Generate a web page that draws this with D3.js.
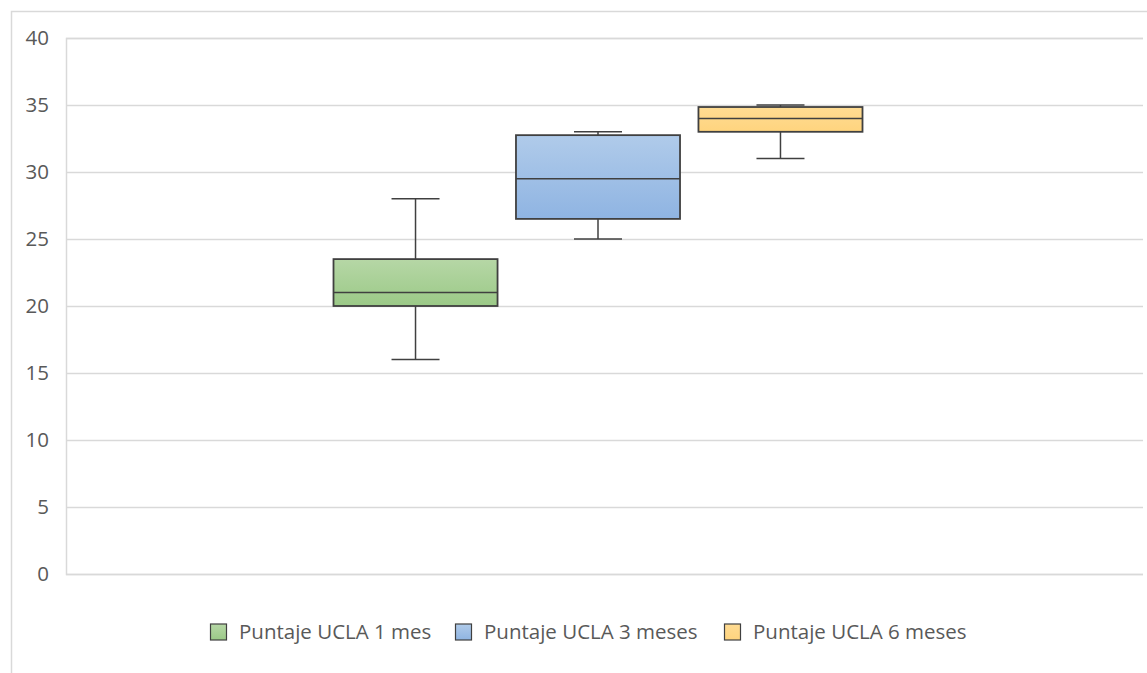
<!DOCTYPE html>
<html>
<head>
<meta charset="utf-8">
<script src="https://cdn.jsdelivr.net/npm/d3@7"></script>
<style>
  html, body { margin: 0; padding: 0; background: #ffffff; }
  svg { display: block; font-family: "Open Sans", "Noto Sans", sans-serif; }
</style>
</head>
<body>
<svg id="chart" width="1147" height="673"></svg>
<script>
// Five-number summaries per series
const seriesNames = ["Puntaje UCLA 1 mes", "Puntaje UCLA 3 meses", "Puntaje UCLA 6 meses"];
const minValues    = [16, 25, 31];
const q1Values     = [20, 26.5, 33];
const medianValues = [21, 29.5, 34];
const q3Values     = [23.5, 32.75, 34.85];
const maxValues    = [28, 33, 35];
const yTicks = [0, 5, 10, 15, 20, 25, 30, 35, 40];

const fillTop    = ["#b6d7a6", "#b0cbea", "#ffdc93"];
const fillBottom = ["#9bc987", "#8fb4e2", "#ffd47e"];

const svg = d3.select("#chart");
const W = 1147, H = 673;
const plot = { left: 66, right: 1143, top: 38, bottom: 574 };

// chart-area frame
svg.append("rect")
  .attr("x", 11.5).attr("y", 11.5)
  .attr("width", W + 20).attr("height", H + 20)
  .attr("fill", "#fff").attr("stroke", "#d9d9d9").attr("stroke-width", 1.5);

const y = d3.scaleLinear().domain([0, 40]).range([plot.bottom, plot.top]);
const x = d3.scaleBand().domain(seriesNames).range([333.5, 862.5]).paddingInner(0.101).paddingOuter(0);

// gradients
const defs = svg.append("defs");
seriesNames.forEach((s, i) => {
  const g = defs.append("linearGradient").attr("id", "grad" + i)
    .attr("x1", 0).attr("y1", 0).attr("x2", 0).attr("y2", 1);
  g.append("stop").attr("offset", "0%").attr("stop-color", fillTop[i]);
  g.append("stop").attr("offset", "100%").attr("stop-color", fillBottom[i]);
});

// gridlines and tick labels
const yAxis = d3.axisLeft(y).tickValues(yTicks).tickSize(-(plot.right - plot.left)).tickPadding(18);
const gy = svg.append("g").attr("transform", `translate(${plot.left},0)`).call(yAxis);
gy.select(".domain").attr("stroke", "#d9d9d9").attr("stroke-width", 1.5);
gy.selectAll(".tick line").attr("stroke", "#d9d9d9").attr("stroke-width", 1.5);
gy.selectAll(".tick text")
  .attr("fill", "#595959").attr("font-size", 20.5).attr("x", -17)
  .style("font-family", "'Open Sans', sans-serif");

// boxes
const data = seriesNames.map((s, i) => ({
  name: s, i, min: minValues[i], q1: q1Values[i], med: medianValues[i], q3: q3Values[i], max: maxValues[i]
}));

const stroke = "#404040";
const boxes = svg.append("g").selectAll("g").data(data).join("g");

boxes.each(function(d) {
  const g = d3.select(this);
  const x0 = x(d.name), bw = x.bandwidth(), cx = x0 + bw / 2;
  const capW = 48;
  // whiskers
  g.append("line").attr("x1", cx).attr("x2", cx).attr("y1", y(d.max)).attr("y2", y(d.q3))
    .attr("stroke", stroke).attr("stroke-width", 1.5);
  g.append("line").attr("x1", cx).attr("x2", cx).attr("y1", y(d.q1)).attr("y2", y(d.min))
    .attr("stroke", stroke).attr("stroke-width", 1.5);
  g.append("line").attr("x1", cx - capW / 2).attr("x2", cx + capW / 2).attr("y1", y(d.max)).attr("y2", y(d.max))
    .attr("stroke", stroke).attr("stroke-width", 1.5);
  g.append("line").attr("x1", cx - capW / 2).attr("x2", cx + capW / 2).attr("y1", y(d.min)).attr("y2", y(d.min))
    .attr("stroke", stroke).attr("stroke-width", 1.5);
  // box
  g.append("rect").attr("x", x0).attr("y", y(d.q3))
    .attr("width", bw).attr("height", y(d.q1) - y(d.q3))
    .attr("fill", `url(#grad${d.i})`).attr("stroke", stroke).attr("stroke-width", 1.8);
  // median
  g.append("line").attr("x1", x0).attr("x2", x0 + bw).attr("y1", y(d.med)).attr("y2", y(d.med))
    .attr("stroke", stroke).attr("stroke-width", 1.5);
});

// legend
const legendX = [210, 455, 724];
const legend = svg.append("g").selectAll("g").data(data).join("g")
  .attr("transform", (d, i) => `translate(${legendX[i]},632)`);
legend.append("rect").attr("x", 0.5).attr("y", -8).attr("width", 16).attr("height", 16)
  .attr("fill", d => `url(#grad${d.i})`).attr("stroke", stroke).attr("stroke-width", 1.2);
legend.append("text").attr("x", 29).attr("y", 0).attr("dy", "0.35em")
  .attr("fill", "#595959").attr("font-size", 20.5)
  .text(d => d.name);
</script>
</body>
</html>
